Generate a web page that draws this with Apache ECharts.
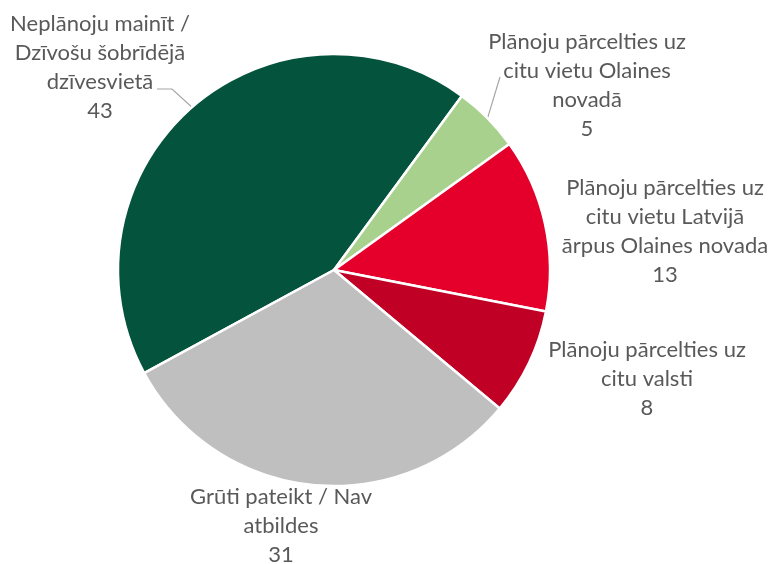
<!DOCTYPE html>
<html>
<head>
<meta charset="utf-8">
<script src="https://cdn.jsdelivr.net/npm/echarts@6/dist/echarts.min.js"></script>
<style>
  html, body { margin: 0; padding: 0; background: #fff; }
  #chart { width: 768px; height: 564px; }
</style>
</head>
<body>
<div id="chart"></div>
<script>
// kategorijas un vērtības
const categories = [
  'Neplānoju mainīt /\nDzīvošu šobrīdējā\ndzīvesvietā',
  'Plānoju pārcelties uz\ncitu vietu Olaines\nnovadā',
  'Plānoju pārcelties uz\ncitu vietu Latvijā\nārpus Olaines novada',
  'Plānoju pārcelties uz\ncitu valsti',
  'Grūti pateikt / Nav\natbildes'
];
const values = [43, 5, 13, 8, 31];
const colors = ['#04533D', '#A9D18E', '#E4002B', '#C10025', '#BFBFBF'];

// etiķešu centri (x, y) un vai rādīt līniju
const labelPos = [[100, 67], [587, 85], [665, 231], [647, 379], [281, 526]];
const showLine = [true, true, false, false, false];

let myChart = echarts.init(document.getElementById('chart'));

let option = {
  animation: false,
  series: [
    {
      type: 'pie',
      center: [334, 270],
      radius: 216,
      startAngle: 208.5,
      clockwise: true,
      avoidLabelOverlap: false,
      emphasis: { disabled: true },
      itemStyle: {
        borderColor: '#fff',
        borderWidth: 2.5
      },
      label: {
        show: true,
        position: 'outside',
        formatter: '{b}\n{c}',
        fontFamily: 'Lato',
        fontSize: 22,
        lineHeight: 29,
        color: '#595959',
        align: 'center',
        overflow: 'none',
        width: 260
      },
      labelLine: {
        show: true,
        length: 10,
        length2: 10,
        lineStyle: { color: '#A6A6A6', width: 1.2 }
      },
      labelLayout: function (params) {
        const i = params.dataIndex;
        const p = labelPos[i];
        const res = { x: p[0], y: p[1], align: 'center', verticalAlign: 'middle' };
        if (showLine[i] && params.labelLinePoints) {
          const a = params.labelLinePoints[0];
          if (i === 0) {
            res.labelLinePoints = [a, [p[0] + 72, p[1] + 22], [p[0] + 57, p[1] + 22]];
          } else {
            res.labelLinePoints = [a, [p[0] - 87, p[1] - 8]];
          }
        }
        return res;
      },
      data: values.map((v, i) => ({
        name: categories[i],
        value: v,
        itemStyle: { color: colors[i] },
        labelLine: { show: showLine[i] }
      }))
    }
  ]
};
myChart.setOption(option);
</script>
</body>
</html>
